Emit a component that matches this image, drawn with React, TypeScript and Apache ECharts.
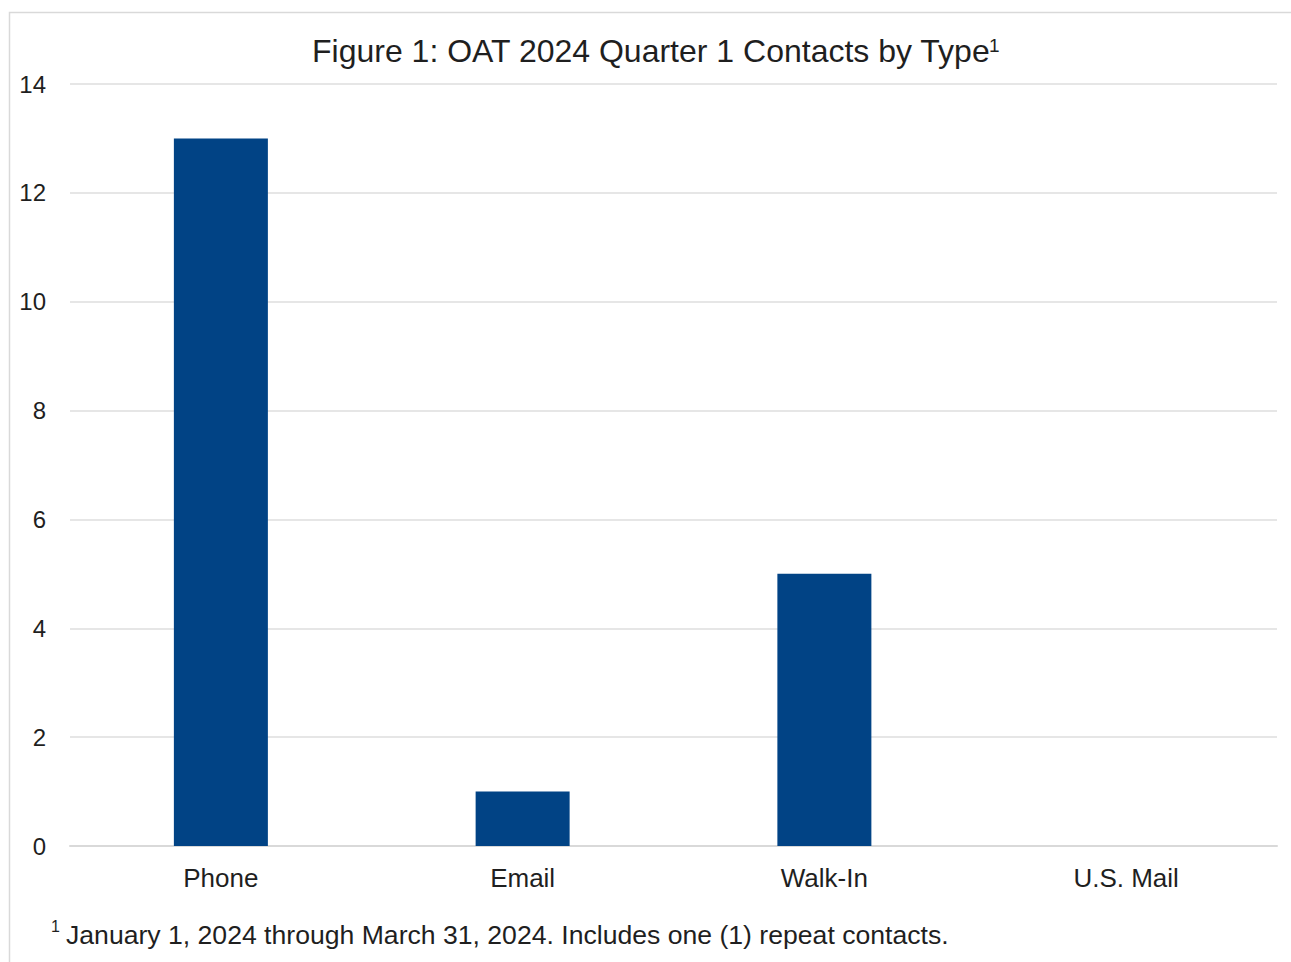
import React, { useEffect, useRef } from "react";
import * as echarts from "echarts";

const categories = ["Phone", "Email", "Walk-In", "U.S. Mail"];
const contacts = [13, 1, 5, 0];
const yTicks = { min: 0, max: 14, interval: 2 };
const titleText = "Figure 1: OAT 2024 Quarter 1 Contacts by Type";
const footnoteText = "January 1, 2024 through March 31, 2024. Includes one (1) repeat contacts.";

const FONT = "Liberation Sans, Arial, sans-serif";
const TEXT = "#1f1f1f";

export default function App() {
  const ref = useRef<HTMLDivElement>(null);
  useEffect(() => {
    if (!ref.current) return;
    const chart = echarts.init(ref.current, null, { renderer: "svg" });
    chart.setOption({
      animation: false,
      backgroundColor: "#ffffff",
      grid: { left: 70, right: 14, top: 84, bottom: 116, containLabel: false },
      xAxis: {
        type: "category",
        data: categories,
        axisLine: { show: true, lineStyle: { color: "#d9d9d9", width: 2 } },
        axisTick: { show: false },
        axisLabel: { color: TEXT, fontSize: 26, fontFamily: FONT, margin: 19 },
      },
      yAxis: {
        type: "value",
        min: yTicks.min,
        max: yTicks.max,
        interval: yTicks.interval,
        axisLine: { show: false },
        axisTick: { show: false },
        splitLine: { lineStyle: { color: "#dedede", width: 1.5 } },
        axisLabel: { color: TEXT, fontSize: 24, fontFamily: FONT, margin: 24 },
      },
      series: [
        {
          type: "bar",
          data: contacts,
          barWidth: 94,
          itemStyle: { color: "#014385" },
        },
      ],
      graphic: [
        {
          type: "rect",
          silent: true,
          shape: { x: 9.5, y: 12.5, width: 1300, height: 1000 },
          style: { fill: "none", stroke: "#d9d9d9", lineWidth: 1.5 },
        },
        {
          type: "text",
          x: 312,
          y: 51,
          style: {
            text: titleText,
            fill: TEXT,
            fontSize: 32,
            fontFamily: FONT,
            textAlign: "left",
            textVerticalAlign: "middle",
          },
        },
        {
          type: "text",
          x: 989,
          y: 45,
          style: {
            text: "1",
            fill: TEXT,
            fontSize: 19,
            fontFamily: FONT,
            textAlign: "left",
            textVerticalAlign: "middle",
          },
        },
        {
          type: "text",
          x: 51,
          y: 926,
          style: {
            text: "1",
            fill: TEXT,
            fontSize: 16,
            fontFamily: FONT,
            textAlign: "left",
            textVerticalAlign: "middle",
          },
        },
        {
          type: "text",
          x: 66,
          y: 935,
          style: {
            text: footnoteText,
            fill: TEXT,
            fontSize: 26.6,
            fontFamily: FONT,
            textAlign: "left",
            textVerticalAlign: "middle",
          },
        },
      ],
    });
    return () => chart.dispose();
  }, []);
  return (
    <div
      ref={ref}
      style={{ position: "fixed", left: 0, top: 0, width: 1291, height: 962, background: "#fff" }}
    />
  );
}
